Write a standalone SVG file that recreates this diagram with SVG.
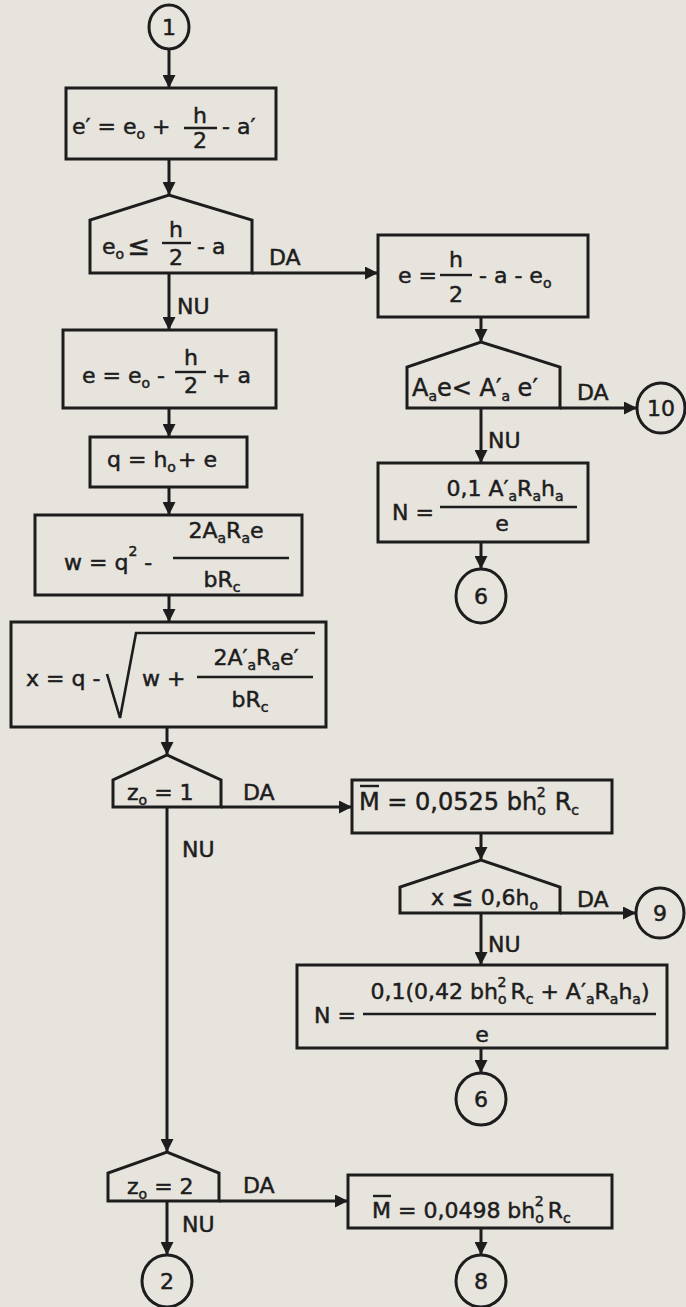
<svg xmlns="http://www.w3.org/2000/svg" width="686" height="1307" viewBox="0 0 686 1307">
<defs>
<style>
.bg{fill:#e7e4dd}
.sh{fill:none;stroke:#1d1d1d;stroke-width:3;stroke-linejoin:miter}
.ln{fill:none;stroke:#1d1d1d;stroke-width:3}
.fl{stroke:#1d1d1d;stroke-width:2.4}
.rd{fill:none;stroke:#1d1d1d;stroke-width:2.6}
text{font-family:'DejaVu Sans','Liberation Sans',sans-serif;font-size:22px;fill:#1d1d1d;stroke:#1d1d1d;stroke-width:0.5}
.sb{font-size:14px}
.ct{text-anchor:middle}
.le{font-size:27px}
.bg24{font-size:24px}
</style>
<marker id="ah" viewBox="0 0 12 12" refX="12" refY="6" markerWidth="13" markerHeight="13" markerUnits="userSpaceOnUse" orient="auto"><path d="M0,0 L12,6 L0,12 z" fill="#1d1d1d"/></marker>
</defs>
<rect class="bg" x="0" y="0" width="686" height="1307"/>

<g id="connectors">
<path class="ln" d="M169,49 V88" marker-end="url(#ah)"/>
<path class="ln" d="M169,159 V195" marker-end="url(#ah)"/>
<path class="ln" d="M252,273 H378" marker-end="url(#ah)"/>
<path class="ln" d="M169,273 V330" marker-end="url(#ah)"/>
<path class="ln" d="M169,408 V437" marker-end="url(#ah)"/>
<path class="ln" d="M169,487 V515" marker-end="url(#ah)"/>
<path class="ln" d="M169,595 V622" marker-end="url(#ah)"/>
<path class="ln" d="M167,727 V755" marker-end="url(#ah)"/>
<path class="ln" d="M221,807 H352" marker-end="url(#ah)"/>
<path class="ln" d="M167,807 V1152" marker-end="url(#ah)"/>
<path class="ln" d="M219,1201 H348" marker-end="url(#ah)"/>
<path class="ln" d="M167,1201 V1255" marker-end="url(#ah)"/>
<path class="ln" d="M481,317 V342" marker-end="url(#ah)"/>
<path class="ln" d="M560,408 H637" marker-end="url(#ah)"/>
<path class="ln" d="M481,408 V463" marker-end="url(#ah)"/>
<path class="ln" d="M481,542 V569" marker-end="url(#ah)"/>
<path class="ln" d="M481,833 V860" marker-end="url(#ah)"/>
<path class="ln" d="M560,913 H636" marker-end="url(#ah)"/>
<path class="ln" d="M481,913 V965" marker-end="url(#ah)"/>
<path class="ln" d="M481,1048 V1073" marker-end="url(#ah)"/>
<path class="ln" d="M481,1228 V1255" marker-end="url(#ah)"/>
<text x="269" y="265">DA</text>
<text x="177" y="314">NU</text>
<text x="577" y="400">DA</text>
<text x="488" y="448">NU</text>
<text x="243" y="800">DA</text>
<text x="182" y="857">NU</text>
<text x="577" y="907">DA</text>
<text x="488" y="952">NU</text>
<text x="243" y="1193">DA</text>
<text x="182" y="1232">NU</text>
</g>

<g id="c1">
<ellipse class="sh" cx="169" cy="27" rx="20" ry="22"/>
<text class="ct" x="169" y="35">1</text>
</g>

<g id="b1">
<rect class="sh" x="66" y="88" width="210" height="71"/>
<text x="72" y="134">e′ = e<tspan class="sb" dy="5">o</tspan><tspan dy="-5"> +</tspan></text>
<text class="ct" x="200" y="123">h</text>
<line class="fl" x1="184" y1="128" x2="217" y2="128"/>
<text class="ct" x="200" y="148">2</text>
<text x="222" y="134">- a′</text>
</g>

<g id="d1">
<polygon class="sh" points="90,273 90,220 169,195 252,220 252,273"/>
<text x="102" y="254">e<tspan class="sb" dy="5">o</tspan><tspan class="le" dx="3" dy="-4">≤</tspan></text>
<text class="ct" x="176" y="237">h</text>
<line class="fl" x1="162" y1="243" x2="191" y2="243"/>
<text class="ct" x="176" y="265">2</text>
<text x="197" y="254">- a</text>
</g>

<g id="b2">
<rect class="sh" x="378" y="235" width="210" height="82"/>
<text x="398" y="283">e =</text>
<text class="ct" x="456" y="267">h</text>
<line class="fl" x1="440" y1="275" x2="472" y2="275"/>
<text class="ct" x="456" y="302">2</text>
<text x="479" y="283">- a - e<tspan class="sb" dy="5">o</tspan></text>
</g>

<g id="b3">
<rect class="sh" x="63" y="330" width="213" height="78"/>
<text x="82" y="383">e = e<tspan class="sb" dy="5">o</tspan><tspan dy="-5"> -</tspan></text>
<text class="ct" x="191" y="365">h</text>
<line class="fl" x1="175" y1="372" x2="206" y2="372"/>
<text class="ct" x="191" y="393">2</text>
<text x="212" y="383">+ a</text>
</g>

<g id="b4">
<rect class="sh" x="90" y="437" width="157" height="50"/>
<text x="107" y="467">q = h<tspan class="sb" dy="5">o</tspan></text>
<text x="178" y="467">+ e</text>
</g>

<g id="b5">
<rect class="sh" x="35" y="515" width="267" height="80"/>
<text x="64" y="570">w = q<tspan class="sb" dy="-14">2</tspan><tspan dy="14"> -</tspan></text>
<text class="ct" x="226" y="538">2A<tspan class="sb" dy="5">a</tspan><tspan dy="-5">R</tspan><tspan class="sb" dy="5">a</tspan><tspan dy="-5">e</tspan></text>
<line class="fl" x1="173" y1="558" x2="289" y2="558"/>
<text class="ct" x="222" y="587">bR<tspan class="sb" dy="5">c</tspan></text>
</g>

<g id="b6">
<rect class="sh" x="11" y="622" width="315" height="105"/>
<text x="26" y="686">x = q -</text>
<path class="rd" d="M107,674 L120,718 L136,633 H315"/>
<text x="142" y="686">w +</text>
<text class="ct" x="256" y="665">2A′<tspan class="sb" dy="5">a</tspan><tspan dy="-5">R</tspan><tspan class="sb" dy="5">a</tspan><tspan dy="-5">e′</tspan></text>
<line class="fl" x1="197" y1="677" x2="313" y2="677"/>
<text class="ct" x="250" y="707">bR<tspan class="sb" dy="5">c</tspan></text>
</g>

<g id="d2">
<polygon class="sh" points="407,408 407,367 481,342 560,367 560,408"/>
<text class="bg24" x="412" y="396">A<tspan class="sb" dy="5">a</tspan><tspan dy="-5">e&lt; A′</tspan><tspan class="sb" dy="5">a</tspan><tspan dy="-5"> e′</tspan></text>
</g>

<g id="c10">
<ellipse class="sh" cx="661" cy="408" rx="24" ry="25"/>
<text class="ct" x="661" y="416">10</text>
</g>

<g id="b7">
<rect class="sh" x="378" y="463" width="210" height="79"/>
<text x="392" y="520">N =</text>
<text class="ct" x="505" y="496">0,1 A′<tspan class="sb" dy="5">a</tspan><tspan dy="-5">R</tspan><tspan class="sb" dy="5">a</tspan><tspan dy="-5">h</tspan><tspan class="sb" dy="5">a</tspan></text>
<line class="fl" x1="440" y1="507" x2="577" y2="507"/>
<text class="ct" x="502" y="531">e</text>
</g>

<g id="c6a">
<ellipse class="sh" cx="481" cy="596" rx="25" ry="27"/>
<text class="ct" x="481" y="604">6</text>
</g>

<g id="d3">
<polygon class="sh" points="113,807 113,780 167,755 221,780 221,807"/>
<text x="127" y="800">z<tspan class="sb" dy="5">o</tspan><tspan dy="-5"> = 1</tspan></text>
</g>

<g id="b8">
<rect class="sh" x="352" y="780" width="260" height="53"/>
<text class="bg24" x="359" y="810">M = 0,0525 bh<tspan class="sb" dy="5">o</tspan><tspan class="sb" dx="-9" dy="-18">2</tspan><tspan dx="9" dy="13">R</tspan><tspan class="sb" dy="5">c</tspan></text>
<line class="fl" x1="360" y1="786" x2="379" y2="786"/>
</g>

<g id="d4">
<polygon class="sh" points="400,913 400,887 481,860 560,887 560,913"/>
<text x="431" y="905">x <tspan class="le" dy="1">≤</tspan><tspan dy="-1"> 0,6h</tspan><tspan class="sb" dy="5">o</tspan></text>
</g>

<g id="c9">
<ellipse class="sh" cx="660" cy="913" rx="24" ry="25"/>
<text class="ct" x="660" y="921">9</text>
</g>

<g id="b9">
<rect class="sh" x="297" y="965" width="370" height="83"/>
<text x="314" y="1023">N =</text>
<text class="ct" x="510" y="999">0,1(0,42 bh<tspan class="sb" dy="5">o</tspan><tspan class="sb" dx="-9" dy="-17">2</tspan><tspan dx="4" dy="12">R</tspan><tspan class="sb" dy="5">c</tspan><tspan dy="-5"> + A′</tspan><tspan class="sb" dy="5">a</tspan><tspan dy="-5">R</tspan><tspan class="sb" dy="5">a</tspan><tspan dy="-5">h</tspan><tspan class="sb" dy="5">a</tspan><tspan dy="-5">)</tspan></text>
<line class="fl" x1="363" y1="1014" x2="656" y2="1014"/>
<text class="ct" x="482" y="1042">e</text>
</g>

<g id="c6b">
<ellipse class="sh" cx="481" cy="1099" rx="25" ry="26"/>
<text class="ct" x="481" y="1107">6</text>
</g>

<g id="d5">
<polygon class="sh" points="108,1201 108,1173 167,1152 219,1173 219,1201"/>
<text x="127" y="1194">z<tspan class="sb" dy="5">o</tspan><tspan dy="-5"> = 2</tspan></text>
</g>

<g id="b10">
<rect class="sh" x="348" y="1175" width="264" height="53"/>
<text x="372" y="1218">M = 0,0498 bh<tspan class="sb" dy="5">o</tspan><tspan class="sb" dx="-9" dy="-17">2</tspan><tspan dx="4" dy="12">R</tspan><tspan class="sb" dy="5">c</tspan></text>
<line class="fl" x1="373" y1="1196" x2="391" y2="1196"/>
</g>

<g id="c2">
<ellipse class="sh" cx="167" cy="1281" rx="25" ry="26"/>
<text class="ct" x="167" y="1289">2</text>
</g>

<g id="c8">
<ellipse class="sh" cx="481" cy="1281" rx="25" ry="26"/>
<text class="ct" x="481" y="1289">8</text>
</g>
</svg>
